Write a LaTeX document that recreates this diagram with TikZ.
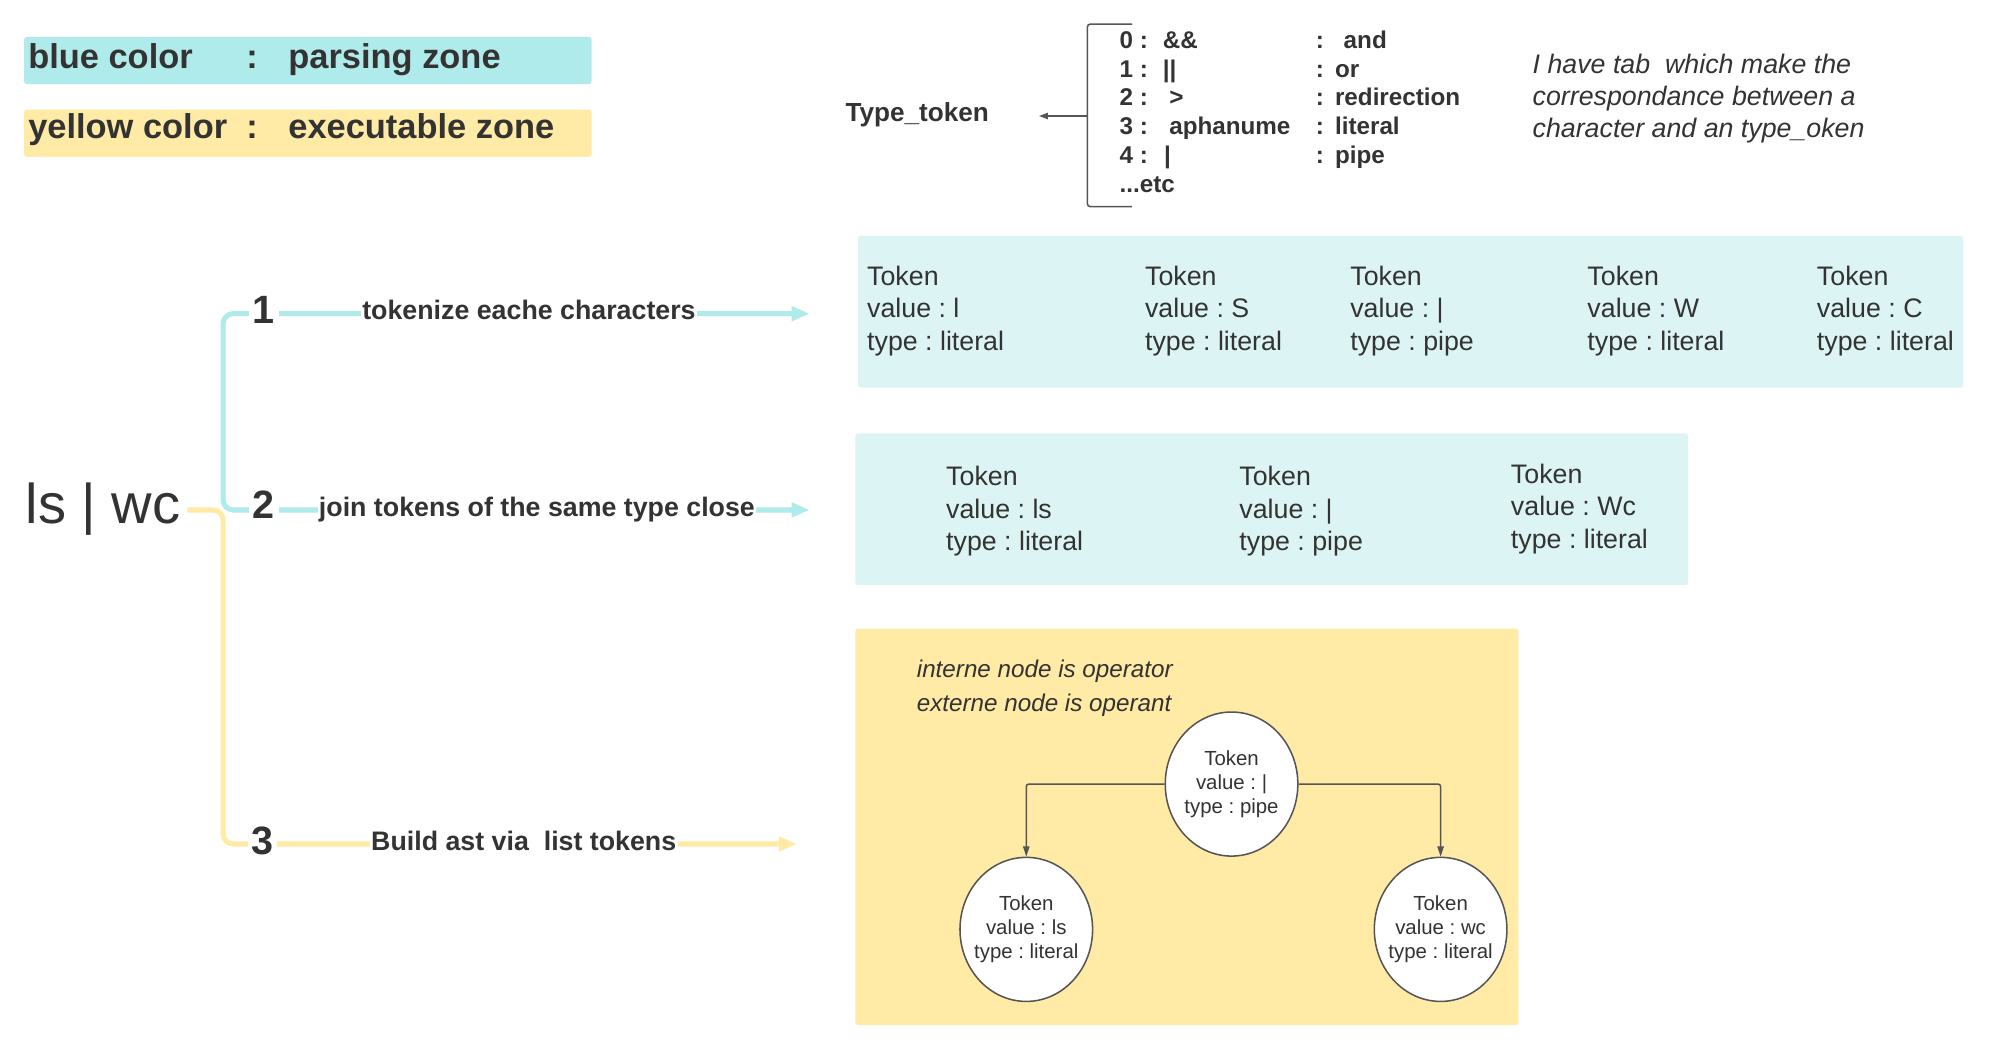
\documentclass[tikz,border=0pt]{standalone}
\usepackage{fontspec}
\setmainfont{Liberation Sans}
\usetikzlibrary{arrows.meta,shapes.geometric}
\definecolor{legblue}{HTML}{AFEBEA}
\definecolor{tokbg}{HTML}{DCF5F4}
\definecolor{legyel}{HTML}{FFEAA6}
\definecolor{ink}{HTML}{333333}
\definecolor{wire}{HTML}{555555}
\frenchspacing
\begin{document}
\begin{tikzpicture}[x=1pt,y=-1pt,
  every node/.style={inner sep=0pt, text=ink},
  legtxt/.style={font=\fontsize{27}{32}\selectfont\bfseries, anchor=base west},
  tabrow/.style={font=\fontsize{19}{23}\selectfont\bfseries, anchor=base west},
  steptxt/.style={font=\fontsize{21}{25}\selectfont\bfseries, anchor=base west, fill=white, inner xsep=1pt, inner ysep=2pt},
  stepnum/.style={font=\fontsize{31}{36}\selectfont\bfseries, anchor=base, fill=white, inner xsep=3pt, inner ysep=1pt},
  tok/.style={font=\fontsize{21}{25.5}\selectfont, align=left, anchor=north west},
  ast/.style={ellipse, draw=wire, line width=1.2pt, fill=white, minimum width=104pt, minimum height=113pt, inner xsep=-10pt, font=\fontsize{16}{19}\selectfont, align=center},
  bline/.style={draw=legblue, line width=4pt, rounded corners=8pt},
  yline/.style={draw=legyel, line width=4pt, rounded corners=8pt},
  bigtip/.style={-{Triangle[length=14pt,width=11pt]}},
  tree/.style={draw=wire, line width=1.2pt, rounded corners=2pt, -{Triangle[length=8pt,width=5pt]}}
]
\useasboundingbox (0,0) rectangle (1568,824.4);
\fill[white] (0,0) rectangle (1568,824.4);

% legend
\fill[legblue, rounded corners=2pt] (19,29) rectangle (464,66);
\node[legtxt] (legb) at (22,53.5) {\makebox[171pt][l]{blue color}\makebox[33pt][l]{:}parsing zone};
\fill[legyel, rounded corners=2pt] (19,86) rectangle (464,123);
\node[legtxt] (legy) at (22,109) {\makebox[171pt][l]{yellow color}\makebox[33pt][l]{:}executable zone};

% type token table
\node[font=\fontsize{20.5}{24}\selectfont\bfseries, anchor=base west] (tt) at (663,95.5) {Type\_token};
\coordinate (brk) at (853,91);
\coordinate (tte) at (815,91);
\draw[wire, line width=1.2pt, rounded corners=2pt] (888,19) -| (853,162) -- (888,162);
\draw[wire, line width=1.2pt, -{Triangle[length=7pt,width=5pt]}] (brk) -- (tte);
\node[tabrow] (r0) at (878,38) {\makebox[34pt][l]{0 :}\makebox[120pt][l]{\&\&}:\hspace{15.5pt}and};
\node[tabrow] (r1) at (878,60.5) {\makebox[34pt][l]{1 :}\makebox[120pt][l]{||}:\hspace{8.7pt}or};
\node[tabrow] (r2) at (878,83) {\makebox[39pt][l]{2 :}\makebox[115pt][l]{>}:\hspace{8.7pt}redirection};
\node[tabrow] (r3) at (878,105.5) {\makebox[39pt][l]{3 :}\makebox[115pt][l]{aphanume}:\hspace{8.7pt}literal};
\node[tabrow] (r4) at (878,128) {\makebox[35pt][l]{4 :}\makebox[119pt][l]{|}:\hspace{8.7pt}pipe};
\node[tabrow] (r5) at (878,151) {...etc};
\node[font=\fontsize{21}{25}\selectfont\itshape, align=left, anchor=north west] (note) at (1202,42.5)
  {I have tab\ \ which make the\\correspondance between a\\character and an type\_oken};

% command and steps
\node[font=\fontsize{44}{50}\selectfont, anchor=base west] (cmd) at (20,411) {ls | wc};
\coordinate (c0) at (147,400);
\coordinate (jn) at (175,400);
\coordinate (e1) at (635,246);
\coordinate (e2) at (635,400);
\coordinate (e3) at (625,662);
\draw[bline, {Triangle[length=14pt,width=11pt]}-{Triangle[length=14pt,width=11pt]}] (e1) -| (jn) -- (e2);
\draw[yline, bigtip] (c0) -- (jn) |- (e3);
\node[stepnum] (n1) at (207,254) {1};
\node[steptxt] (s1) at (283,251) {tokenize eache characters};
\node[stepnum] (n2) at (207,407) {2};
\node[steptxt] (s2) at (249,405) {join tokens of the same type close};
\node[stepnum] (n3) at (206,670) {3};
\node[steptxt] (s3) at (290,667) {Build ast via\ \ list tokens};

% token list 1
\fill[tokbg, rounded corners=2pt] (673,185) rectangle (1540,304);
\node[tok] (t11) at (680,208.5) {Token\\value : l\\type : literal};
\node[tok] (t12) at (898,208.5) {Token\\value : S\\type : literal};
\node[tok] (t13) at (1059,208.5) {Token\\value : |\\type : pipe};
\node[tok] (t14) at (1245,208.5) {Token\\value : W\\type : literal};
\node[tok] (t15) at (1425,208.5) {Token\\value : C\\type : literal};

% token list 2
\fill[tokbg, rounded corners=2pt] (671,340) rectangle (1324,459);
\node[tok] (t21) at (742,365.5) {Token\\value : ls\\type : literal};
\node[tok] (t22) at (972,365.5) {Token\\value : |\\type : pipe};
\node[tok] (t23) at (1185,363.5) {Token\\value : Wc\\type : literal};

% ast
\fill[legyel, rounded corners=2pt] (671,493) rectangle (1191,804);
\node[font=\fontsize{19}{27}\selectfont\itshape, align=left, anchor=north west] (rule) at (719,517.5)
  {interne node is operator\\externe node is operant};
\node[ast] (op) at (966,615) {Token\\value : |\\type : pipe};
\node[ast] (lsn) at (805,729) {Token\\value : ls\\type : literal};
\node[ast] (wcn) at (1130,729) {Token\\value : wc\\type : literal};
\draw[tree] (op.west) -| (lsn.north);
\draw[tree] (op.east) -| (wcn.north);
\end{tikzpicture}
\end{document}
